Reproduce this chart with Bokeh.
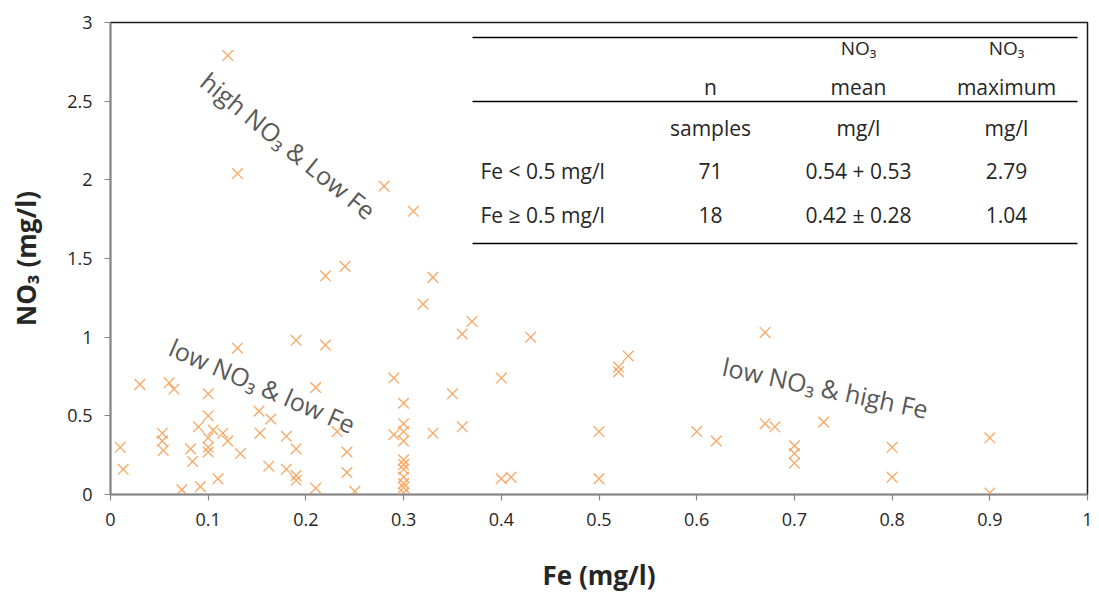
from bokeh.plotting import figure
from bokeh.models import Range1d, Label, FixedTicker, ColumnDataSource
from bokeh.embed import file_html
from bokeh.resources import INLINE
import math

# ---------------- data ----------------
# samples with Fe < 0.5 mg/l (71)
fe_low = [0.12, 0.13, 0.28, 0.31, 0.22, 0.24, 0.33, 0.32, 0.37, 0.36,
          0.43, 0.13, 0.19, 0.22, 0.21, 0.03, 0.06, 0.065, 0.10, 0.29,
          0.40, 0.35, 0.01, 0.013, 0.053, 0.053, 0.054, 0.073, 0.092, 0.082,
          0.084, 0.09, 0.10, 0.10, 0.10, 0.10, 0.11, 0.115, 0.12, 0.133,
          0.152, 0.164, 0.153, 0.162, 0.18, 0.19, 0.18, 0.19, 0.19, 0.21,
          0.232, 0.242, 0.242, 0.25, 0.30, 0.30, 0.29, 0.30, 0.30, 0.33,
          0.36, 0.30, 0.30, 0.30, 0.30, 0.30, 0.30, 0.40, 0.41, 0.105, 0.30]
no3_low = [2.79, 2.04, 1.96, 1.80, 1.39, 1.45, 1.38, 1.21, 1.10, 1.02,
           1.00, 0.93, 0.98, 0.95, 0.68, 0.70, 0.71, 0.67, 0.64, 0.74,
           0.74, 0.64, 0.30, 0.16, 0.39, 0.34, 0.28, 0.03, 0.05, 0.29,
           0.21, 0.43, 0.50, 0.36, 0.30, 0.27, 0.10, 0.39, 0.34, 0.26,
           0.53, 0.48, 0.39, 0.18, 0.37, 0.29, 0.16, 0.12, 0.09, 0.04,
           0.40, 0.27, 0.14, 0.02, 0.58, 0.45, 0.38, 0.40, 0.34, 0.39,
           0.43, 0.22, 0.16, 0.11, 0.07, 0.045, 0.01, 0.10, 0.11, 0.41, 0.19]
# samples with Fe >= 0.5 mg/l (18)
fe_high = [0.50, 0.50, 0.52, 0.52, 0.53, 0.60, 0.62, 0.67, 0.67, 0.68,
           0.70, 0.70, 0.70, 0.73, 0.80, 0.80, 0.90, 0.90]
no3_high = [0.40, 0.10, 0.81, 0.78, 0.88, 0.40, 0.34, 1.03, 0.45, 0.43,
            0.31, 0.26, 0.20, 0.46, 0.30, 0.11, 0.36, 0.01]

x_ticks = [0, 0.1, 0.2, 0.3, 0.4, 0.5, 0.6, 0.7, 0.8, 0.9, 1]
x_tick_labels = ["0", "0.1", "0.2", "0.3", "0.4", "0.5", "0.6", "0.7", "0.8", "0.9", "1"]
y_ticks = [0, 0.5, 1, 1.5, 2, 2.5, 3]
y_tick_labels = ["0", "0.5", "1", "1.5", "2", "2.5", "3"]

x_title = "Fe (mg/l)"
y_title = "NO\u2083 (mg/l)"

region_labels = ["high NO\u2083 & Low Fe", "low NO\u2083 & low Fe", "low NO\u2083 & high Fe"]

table_head1 = ["", "", "NO\u2083", "NO\u2083"]
table_head2 = ["", "n", "mean", "maximum"]
table_units = ["", "samples", "mg/l", "mg/l"]
table_row1 = ["Fe < 0.5 mg/l", "71", "0.54 + 0.53", "2.79"]
table_row2 = ["Fe \u2265 0.5 mg/l", "18", "0.42 \u00b1 0.28", "1.04"]

FONT = "Open Sans"
TXT = "#262626"
ORANGE = "#F79646"

# ---------------- figure ----------------
p = figure(width=1093, height=600, output_backend="svg", toolbar_location=None,
           x_range=Range1d(0, 1), y_range=Range1d(0, 3),
           min_border_left=110, min_border_right=6, min_border_top=22,
           min_border_bottom=106)
p.grid.visible = False
p.background_fill_color = "white"
p.border_fill_color = "white"
p.outline_line_color = "#1a1a1a"
p.outline_line_width = 1.5

for ax, ticks, labels in ((p.xaxis[0], x_ticks, x_tick_labels),
                          (p.yaxis[0], y_ticks, y_tick_labels)):
    ax.ticker = FixedTicker(ticks=ticks)
    ax.major_label_overrides = {t: l for t, l in zip(ticks, labels)}
    ax.axis_line_color = "#868686"
    ax.axis_line_width = 1.6
    ax.major_tick_line_color = "#868686"
    ax.major_tick_line_width = 1.2
    ax.major_tick_out = 6
    ax.major_tick_in = 0
    ax.minor_tick_line_color = None
    ax.major_label_text_font = FONT
    ax.major_label_text_font_size = "18px"
    ax.major_label_text_color = TXT
    ax.axis_label_text_font = FONT
    ax.axis_label_text_font_style = "bold"
    ax.axis_label_text_font_size = "26px"
    ax.axis_label_text_color = TXT

p.xaxis.axis_label = x_title
p.yaxis.axis_label = y_title
p.xaxis.major_label_standoff = 12
p.xaxis.axis_label_standoff = 28
p.yaxis.major_label_standoff = 12
p.yaxis.axis_label_standoff = 20

src_low = ColumnDataSource(dict(fe=fe_low, no3=no3_low))
src_high = ColumnDataSource(dict(fe=fe_high, no3=no3_high))
for src in (src_low, src_high):
    p.scatter("fe", "no3", source=src, marker="x", size=15,
              line_color=ORANGE, line_alpha=0.85, line_width=1.3)

# helpers converting picture pixel positions to data coordinates (layout only)
def px(xp):
    return (xp - 110) / 977.0

def py(yp):
    return (494 - yp) / 157.3

# ---------------- region annotations ----------------
region_pos = [(288, 145, 39.0), (262, 385, 23.5), (825, 387, 12.0)]
for txt, (xx, yy, ang) in zip(region_labels, region_pos):
    p.add_layout(Label(x=px(xx), y=py(yy), text=txt, angle=-math.radians(ang),
                       text_align="center", text_baseline="middle",
                       text_font=FONT, text_font_size="25px", text_color="#595959"))

# ---------------- table ----------------
for yline in (37, 101, 243):
    p.segment(x0=[px(472)], y0=[py(yline)], x1=[px(1077)], y1=[py(yline)],
              line_color="black", line_width=1.5)

col_x = [480, 710, 858, 1006]
rows = [(table_head1, 48, "19px"), (table_head2, 87, "21px"),
        (table_units, 128, "21px"), (table_row1, 171, "21px"),
        (table_row2, 215, "21px")]
for cells, yy, fs in rows:
    for i, (cell, xx) in enumerate(zip(cells, col_x)):
        if not cell:
            continue
        p.add_layout(Label(x=px(xx), y=py(yy), text=cell,
                           text_align="left" if i == 0 else "center",
                           text_baseline="middle", text_font=FONT,
                           text_font_size=fs, text_color=TXT))

open("out.html", "w").write(file_html(p, INLINE))
